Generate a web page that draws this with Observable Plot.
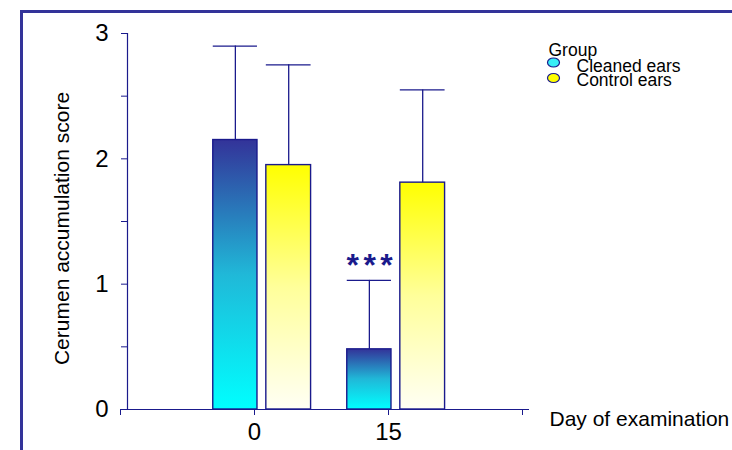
<!DOCTYPE html>
<html>
<head>
<meta charset="utf-8">
<script src="https://cdn.jsdelivr.net/npm/d3@7"></script>
<script src="https://cdn.jsdelivr.net/npm/@observablehq/plot@0.6"></script>
<style>
  html, body { margin: 0; padding: 0; background: #fff; overflow: hidden; }
  #wrap { position: relative; width: 732px; height: 450px; overflow: hidden; }
  .frameTop { position: absolute; left: 20px; top: 10px; width: 712px; height: 3px; background: #333399; }
  .frameLeft { position: absolute; left: 20px; top: 10px; height: 440px; width: 3px; background: #333399; }
  #wrap svg { display: block; position: absolute; left: 0; top: 0; }
  #wrap svg g[fill="#1a1a8c"] text { letter-spacing: 4.5px; }
</style>
</head>
<body>
<div id="wrap"><div class="frameTop"></div><div class="frameLeft"></div></div>
<script>
// ---- data ----
const days = ["0", "15"];
const groups = ["Cleaned ears", "Control ears"];
const cleanedMean = [2.15, 0.48];
const cleanedUpper = [2.90, 1.03];
const controlMean = [1.95, 1.81];
const controlUpper = [2.75, 2.55];
const significance = ["", "***"];
const yTicks = [0, 1, 2, 3];
const yMinorTicks = [0.5, 1.5, 2.5];
const xTicks = [-1, 0, 1, 2];
const xTickLabels = ["", "0", "15", ""];

// ---- styling ----
const navy = "#1a1a8c";
const barSpan = {"Cleaned ears": [-0.36, -0.03], "Control ears": [0.036, 0.37]};
const gradId = {"Cleaned ears": "gradCleaned", "Control ears": "gradControl"};

const rows = [];
days.forEach((d, i) => {
  rows.push({i, day: d, group: groups[0], mean: cleanedMean[i], upper: cleanedUpper[i], sig: significance[i]});
  rows.push({i, day: d, group: groups[1], mean: controlMean[i], upper: controlUpper[i], sig: ""});
});
const x1 = r => r.i + barSpan[r.group][0];
const x2 = r => r.i + barSpan[r.group][1];
const xc = r => (x1(r) + x2(r)) / 2;

function defs() {
  const ns = "http://www.w3.org/2000/svg";
  const g = document.createElementNS(ns, "defs");
  const mk = (id, stops) => {
    const lg = document.createElementNS(ns, "linearGradient");
    lg.setAttribute("id", id);
    lg.setAttribute("x1", "0"); lg.setAttribute("y1", "0");
    lg.setAttribute("x2", "0"); lg.setAttribute("y2", "1");
    stops.forEach(([o, c]) => {
      const s = document.createElementNS(ns, "stop");
      s.setAttribute("offset", o); s.setAttribute("stop-color", c);
      lg.appendChild(s);
    });
    g.appendChild(lg);
  };
  mk("gradCleaned", [["0", "#333399"], ["0.5", "#20b8d8"], ["1", "#00ffff"]]);
  mk("gradControl", [["0", "#ffff00"], ["0.5", "#ffff9a"], ["1", "#fffff4"]]);
  return g;
}

const ellipse = {
  draw(ctx) {
    const rx = 6, ry = 4.5, k = 0.5523;
    ctx.moveTo(rx, 0);
    ctx.bezierCurveTo(rx, ry * k, rx * k, ry, 0, ry);
    ctx.bezierCurveTo(-rx * k, ry, -rx, ry * k, -rx, 0);
    ctx.bezierCurveTo(-rx, -ry * k, -rx * k, -ry, 0, -ry);
    ctx.bezierCurveTo(rx * k, -ry, rx, -ry * k, rx, 0);
    ctx.closePath();
  }
};
const legendFill = {"Cleaned ears": "#38eef6", "Control ears": "#ffff00"};

const chart = Plot.plot({
  width: 732,
  height: 450,
  marginTop: 33,
  marginBottom: 41,
  marginLeft: 127,
  marginRight: 203,
  style: {fontFamily: "'Liberation Sans', Arial, sans-serif", fontSize: "21px", background: "transparent", color: "black"},
  x: {type: "linear", domain: [-1, 2]},
  y: {domain: [0, 3]},
  marks: [
    defs,
    // bars
    Plot.rect(rows, {x1, x2, y1: 0, y2: "mean", fill: r => `url(#${gradId[r.group]})`, stroke: navy, strokeWidth: 1.4}),
    // error bars
    Plot.ruleX(rows, {x: xc, y1: "mean", y2: "upper", stroke: navy, strokeWidth: 1.3}),
    Plot.ruleY(rows, {y: "upper", x1, x2, stroke: navy, strokeWidth: 1.3}),
    // significance
    Plot.text(rows.filter(r => r.sig), {x: xc, y: "upper", text: "sig", fill: navy, fontWeight: "bold", fontSize: 32, dx: 2.5, dy: -15, lineAnchor: "middle"}),
    // axes
    Plot.ruleX([-1], {stroke: navy, strokeWidth: 1.2}),
    Plot.ruleY([0], {stroke: navy, strokeWidth: 1.2}),
    Plot.axisY({ticks: yTicks, tickFormat: d => String(d), tickSize: 6, tickPadding: 13, stroke: navy, fill: "black", fontSize: 24, label: null}),
    Plot.axisY({ticks: yMinorTicks, tickSize: 6, tickFormat: () => "", stroke: navy, label: null}),
    Plot.axisX({ticks: xTicks, tickFormat: d => xTickLabels[xTicks.indexOf(d)], tickSize: 6, tickPadding: 7, dx: -7, stroke: navy, fill: "black", fontSize: 24, label: null}),
    // axis titles
    Plot.text(["Cerumen accumulation score"], {frameAnchor: "left", rotate: -90, dx: -65, dy: 7, fontSize: 21, fill: "black", textAnchor: "middle", lineAnchor: "middle"}),
    Plot.text(["Day of examination"], {frameAnchor: "bottom-right", dx: 20, dy: 10, fontSize: 21, fill: "black", textAnchor: "start", lineAnchor: "middle"}),
    // legend
    Plot.text(["Group"], {frameAnchor: "top-right", dx: 19, dy: 16.5, fontSize: 17.5, fill: "black", textAnchor: "start", lineAnchor: "middle"}),
    ...groups.map((g, k) => Plot.dot([g], {frameAnchor: "top-right", dx: 24, dy: 29 + 15.5 * k, symbol: ellipse, fill: legendFill[g], stroke: navy, strokeWidth: 1.2})),
    ...groups.map((g, k) => Plot.text([g], {frameAnchor: "top-right", dx: 47, dy: 33 + 14 * k, fontSize: 17.5, fill: "black", textAnchor: "start", lineAnchor: "middle"}))
  ]
});
document.getElementById("wrap").appendChild(chart);
</script>
</body>
</html>
